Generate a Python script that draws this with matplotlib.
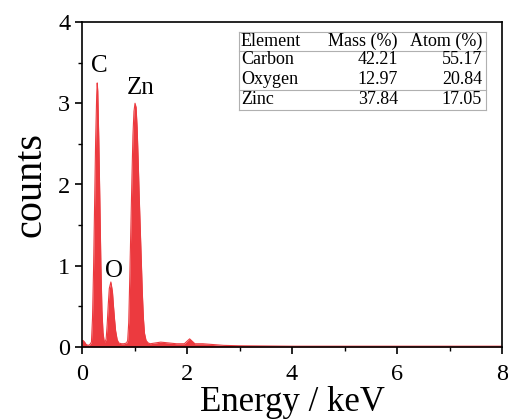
import matplotlib.pyplot as plt
from matplotlib.ticker import MultipleLocator

plt.rcParams['font.family'] = ['Liberation Serif', 'DejaVu Serif']

# EDS spectrum (energy in keV, counts)
energy = [0.00, 0.02, 0.05, 0.08, 0.12, 0.15, 0.18, 0.20, 0.22, 0.24, 0.26, 0.28,
          0.29, 0.30, 0.32, 0.34, 0.36, 0.38, 0.40, 0.42, 0.44, 0.46, 0.48, 0.50,
          0.52, 0.55, 0.58, 0.60, 0.62, 0.64, 0.67, 0.70, 0.75, 0.80, 0.85, 0.87,
          0.89, 0.91, 0.93, 0.95, 0.97, 0.99, 1.01, 1.03, 1.05, 1.07, 1.09, 1.11,
          1.13, 1.15, 1.17, 1.19, 1.22, 1.26, 1.30, 1.50, 1.80, 1.95, 2.00, 2.05,
          2.10, 2.15, 2.30, 2.50, 2.70, 3.00, 4.00, 6.00, 8.00]
counts = [0.07, 0.08, 0.06, 0.03, 0.02, 0.03, 0.06, 0.35, 0.95, 1.75, 2.55, 3.10,
          3.25, 3.15, 2.55, 1.80, 1.00, 0.45, 0.18, 0.08, 0.06, 0.10, 0.28, 0.52,
          0.72, 0.80, 0.68, 0.50, 0.34, 0.20, 0.09, 0.05, 0.04, 0.04, 0.05, 0.08,
          0.30, 0.85, 1.45, 2.05, 2.60, 2.90, 3.00, 2.95, 2.70, 2.30, 1.85, 1.45,
          1.05, 0.65, 0.35, 0.17, 0.08, 0.05, 0.04, 0.06, 0.04, 0.04, 0.07, 0.10,
          0.07, 0.04, 0.04, 0.03, 0.02, 0.015, 0.01, 0.01, 0.01]

peak_names = ['C', 'O', 'Zn']
peak_x = [0.33, 0.61, 1.12]
peak_y = [3.46, 0.93, 3.19]

elements = ['Carbon', 'Oxygen', 'Zinc']
mass_pct = ['42.21', '12.97', '37.84']
atom_pct = ['55.17', '20.84', '17.05']

fig = plt.figure(figsize=(5.08, 4.19), dpi=100)
ax = fig.add_axes([82/508, 72/419, 420/508, 325/419])

red = '#ec3a3f'
ax.fill_between(energy, counts, 0, color=red, lw=0)
ax.plot(energy, counts, color=red, lw=0.8)

for name, px, py in zip(peak_names, peak_x, peak_y):
    ax.text(px, py, name, fontsize=18, ha='center', va='center')

ax.set_xlim(0, 8)
ax.set_ylim(0, 4)
ax.xaxis.set_major_locator(MultipleLocator(2))
ax.xaxis.set_minor_locator(MultipleLocator(1))
ax.yaxis.set_major_locator(MultipleLocator(1))
ax.yaxis.set_minor_locator(MultipleLocator(0.5))
ax.tick_params(which='major', direction='out', length=5, width=1.2, labelsize=17.5)
ax.tick_params(axis='x', which='major', pad=7)
ax.tick_params(which='minor', direction='out', length=3, width=1.0)
for s in ax.spines.values():
    s.set_linewidth(1.2)
ax.set_xlabel('Energy / keV', fontsize=25, labelpad=1)
ax.set_ylabel('counts', fontsize=29, labelpad=6)

# composition table, placed in figure pixels
tr = fig.transFigure
def fx(p):
    return p / 508
def fy(p):
    return 1 - p / 419

rows = [('Element', 'Mass (%)', 'Atom (%)')] + list(zip(elements, mass_pct, atom_pct))
row_y = [41, 60, 80, 100]
for (a, b, c), y in zip(rows, row_y):
    fig.text(fx(241), fy(y), a, fontsize=13, ha='left', va='center')
    fig.text(fx(398), fy(y), b, fontsize=13, ha='right', va='center')
    fig.text(fx(482), fy(y), c, fontsize=13, ha='right', va='center')

grey = '#b0b0b0'
for y in [32, 51, 90, 110]:
    fig.add_artist(plt.Line2D([fx(239), fx(486)], [fy(y), fy(y)], transform=tr, color=grey, lw=0.8))
for x in [239, 486]:
    fig.add_artist(plt.Line2D([fx(x), fx(x)], [fy(32), fy(110)], transform=tr, color=grey, lw=0.8))

fig.savefig('out.png', dpi=100)
